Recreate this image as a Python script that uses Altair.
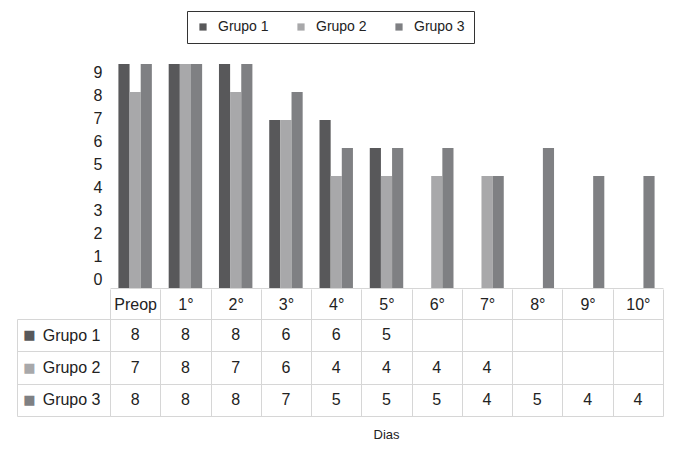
import altair as alt
import pandas as pd

# ---- data ----
days = ["Preop", "1°", "2°", "3°", "4°", "5°", "6°", "7°", "8°", "9°", "10°"]
groups = ["Grupo 1", "Grupo 2", "Grupo 3"]
grupo1 = [8, 8, 8, 6, 6, 5, None, None, None, None, None]
grupo2 = [7, 8, 7, 6, 4, 4, 4, 4, None, None, None]
grupo3 = [8, 8, 8, 7, 5, 5, 5, 4, 5, 4, 4]
axis_labels = list(range(10))  # y-axis tick labels shown in the reference (0..9)

# ---- styles ----
colors = ["#58585a", "#a8a8aa", "#7f8083"]
grid = "#d6d6d6"
txt = "#222222"
FONT = "Liberation Sans"

rows = []
for g, vals in zip(groups, [grupo1, grupo2, grupo3]):
    for d, v in zip(days, vals):
        rows.append({"dia": d, "grupo": g, "valor": v})
df = pd.DataFrame(rows)

# the reference's y labels are spaced independently of the bar scale
lab0, labstep = 0.286, 0.8225
label_pos = [lab0 + labstep * k for k in axis_labels]

xscale = alt.Scale(domain=days, paddingInner=0, paddingOuter=0)
yband = alt.Scale(domain=groups, paddingInner=0, paddingOuter=0)

bars = (
    alt.Chart(df)
    .transform_filter("isValid(datum.valor)")
    .mark_bar()
    .encode(
        x=alt.X("dia:N", sort=days, scale=xscale,
                axis=alt.Axis(title=None, labels=False, ticks=False, domain=True,
                              domainColor=grid, domainWidth=1)),
        xOffset=alt.XOffset("grupo:N", sort=groups,
                            scale=alt.Scale(domain=groups, paddingInner=0, paddingOuter=0.755)),
        y=alt.Y("valor:Q", scale=alt.Scale(domain=[0, 8], nice=False, zero=True),
                axis=alt.Axis(title=None, values=label_pos,
                              labelExpr=f"format(round((datum.value - {lab0}) / {labstep}), 'd')",
                              grid=False, ticks=False, domain=False, labelFontSize=16,
                              labelFont=FONT, labelColor=txt, labelPadding=8)),
        color=alt.Color("grupo:N", scale=alt.Scale(domain=groups, range=colors),
                        legend=alt.Legend(title=None, orient="none", legendX=77, legendY=-53,
                                          direction="horizontal", symbolType="square",
                                          symbolSize=52, symbolStrokeWidth=0,
                                          labelFontSize=14, labelFont=FONT, labelColor=txt,
                                          labelOffset=8, columnPadding=25, padding=9,
                                          strokeColor="#333333", fillColor="white",
                                          cornerRadius=0)),
    )
    .properties(width=553, height=224)
)

cells = (
    alt.Chart(df)
    .transform_filter("isValid(datum.valor)")
    .mark_text(fontSize=16, font=FONT, color=txt)
    .encode(
        y=alt.Y("grupo:N", sort=groups, scale=yband,
                axis=alt.Axis(title=None, orient="left", tickBand="extent", tickSize=93,
                              tickColor=grid, grid=True, gridColor=grid, domain=True,
                              domainColor=grid, labelFontSize=16, labelFont=FONT,
                              labelColor=txt, labelPadding=-83)),
        text=alt.Text("valor:Q", format="d"),
    )
)

swatches = (
    alt.Chart(df)
    .mark_text(opacity=0)
    .encode(
        y=alt.Y("grupo:N", sort=groups, scale=yband,
                axis=alt.Axis(title=None, orient="left", offset=93, ticks=False, grid=False,
                              domain=True, domainColor=grid, labelExpr="'■'",
                              labelColor={"condition": [
                                  {"test": f"datum.value === '{groups[0]}'", "value": colors[0]},
                                  {"test": f"datum.value === '{groups[1]}'", "value": colors[1]}],
                                  "value": colors[2]},
                              labelFontSize=13, labelFont="DejaVu Sans", labelAlign="center",
                              labelPadding=-12)),
        text=alt.value(""),
    )
)

table = (
    alt.layer(cells, swatches)
    .encode(
        x=alt.X("dia:N", sort=days, scale=xscale,
                axis=alt.Axis(title=None, orient="top", tickBand="extent", tickSize=30,
                              tickColor=grid, grid=True, gridColor=grid, domain=True,
                              domainColor=grid, labelFontSize=16, labelFont=FONT,
                              labelColor=txt, labelPadding=-15, labelBaseline="middle",
                              labelAngle=0))
    )
    .resolve_axis(y="independent")
    .properties(width=553, height=97,
                title=alt.TitleParams("Dias", orient="bottom", fontSize=13, fontWeight="normal",
                                      font=FONT, color=txt, offset=12, anchor="middle"))
)

chart = (
    alt.vconcat(bars, table, spacing=0)
    .properties(padding={"left": 8, "top": 2, "right": 5, "bottom": 5})
    .configure_view(stroke=None)
)

chart.save("out.html", embed_options={"renderer": "svg", "actions": False})
